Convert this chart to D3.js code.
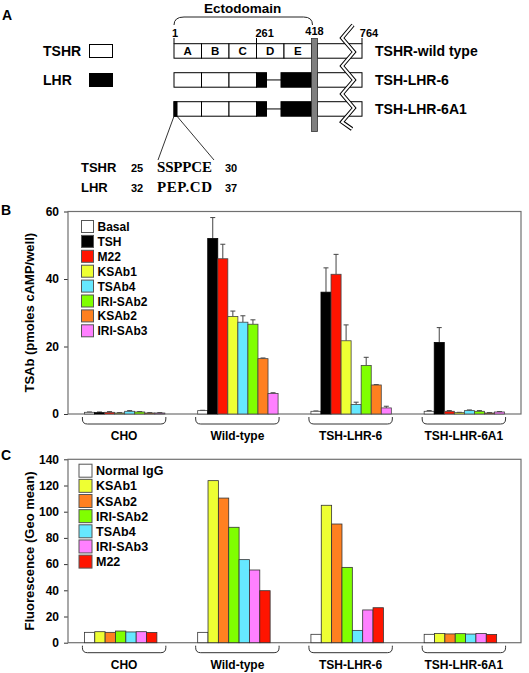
<!DOCTYPE html>
<html><head><meta charset="utf-8">
<script src="https://cdn.jsdelivr.net/npm/d3@7"></script>
<style>
html,body{margin:0;padding:0;background:#fff;}
svg{display:block;font-family:"Liberation Sans",Arial,sans-serif;}
text{font-weight:bold;fill:#000;}
</style></head>
<body>
<script>
// ---------------- DATA ----------------
const groups = ["CHO", "Wild-type", "TSH-LHR-6", "TSH-LHR-6A1"];

// Panel B: TSAb (pmoles cAMP/well)
const seriesB = ["Basal", "TSH", "M22", "KSAb1", "TSAb4", "IRI-SAb2", "KSAb2", "IRI-SAb3"];
const colorsB = ["#ffffff", "#000000", "#ff1400", "#eeff33", "#66e8ff", "#80ff00", "#ff8020", "#ff80ff"];
const meansB = [
  [0.5, 1.0, 0.8, 0.8],
  [0.4, 52.0, 36.1, 21.2],
  [0.5, 46.0, 41.4, 0.8],
  [0.3, 28.9, 21.7, 0.4],
  [0.8, 27.2, 2.8, 1.0],
  [0.6, 26.6, 14.4, 0.8],
  [0.3, 16.4, 8.6, 0.3],
  [0.3, 6.1, 1.8, 0.6]
];
const errorsB = [
  [0.1, 0.1, 0.1, 0.2],
  [0.2, 6.2, 7.2, 4.4],
  [0.2, 4.3, 5.9, 0.2],
  [0.1, 1.6, 4.7, 0.1],
  [0.2, 1.9, 0.7, 0.2],
  [0.1, 1.3, 2.4, 0.2],
  [0.1, 0.2, 0.1, 0.1],
  [0.1, 0.2, 0.5, 0.1]
];
const ticksB = [0, 20, 40, 60];

// Panel C: Fluorescence (Geo mean)
const seriesC = ["Normal IgG", "KSAb1", "KSAb2", "IRI-SAb2", "TSAb4", "IRI-SAb3", "M22"];
const colorsC = ["#ffffff", "#eeff33", "#ff8020", "#80ff00", "#66e8ff", "#ff80ff", "#ff1400"];
const valuesC = [
  [7.9, 7.9, 6.4, 6.4],
  [8.4, 123.7, 104.9, 7.0],
  [7.9, 110.4, 90.6, 6.7],
  [8.9, 88.1, 57.5, 6.9],
  [8.2, 63.4, 9.4, 6.6],
  [8.4, 55.5, 25.0, 7.0],
  [7.8, 39.7, 26.7, 6.3]
];
const ticksC = [0, 20, 40, 60, 80, 100, 120, 140];

// Panel A: schematic
const domains = ["A", "B", "C", "D", "E"];
const residueLabels = ["1", "261", "418", "764"];
const constructs = ["TSHR-wild type", "TSH-LHR-6", "TSH-LHR-6A1"];
const seqTSHR = {name: "TSHR", from: "25", seq: "SSPPCE", to: "30"};
const seqLHR = {name: "LHR", from: "32", seq: "PEP.CD", to: "37"};

// ---------------- DRAW ----------------
const W = 529, H = 673;
const svg = d3.select("body").append("svg").attr("width", W).attr("height", H);

// ===== Panel A =====
const gA = svg.append("g");
gA.append("text").attr("x", 2).attr("y", 20).style("font-size", "14px").text("A");

const xd = d3.scaleLinear().domain([0, 5]).range([174, 311.5]);
const tmX0 = 311.5, tmX1 = 317.5, tailEnd = 362;
const rowsY = [43.7, 72.7, 101.7], rowH = 14.5;

// Ectodomain brace
gA.append("path")
  .attr("d", `M${xd(0)},25 Q${xd(0)},17 ${xd(0)+10},17 L${tmX0-8},17 Q${tmX0+1},17 ${tmX0+1},25`)
  .attr("fill", "none").attr("stroke", "#222").attr("stroke-width", 1);
gA.append("text").attr("x", (xd(0)+tmX0)/2).attr("y", 13).attr("text-anchor", "middle")
  .style("font-size", "13.5px").text("Ectodomain");

// residue labels and ticks
const resPos = [xd(0), xd(3), (tmX0+tmX1)/2, tailEnd];
const resAnchor = ["middle", "start", "middle", "middle"];
residueLabels.forEach((r, i) => {
  gA.append("text").attr("x", i === 1 ? resPos[i] - 1 : (i === 0 ? resPos[i] + 1 : resPos[i] + (i===3?7:0)))
    .attr("y", i === 2 ? 35 : 37).attr("text-anchor", resAnchor[i])
    .style("font-size", "11px").text(r);
  if (i !== 2) gA.append("line").attr("x1", resPos[i]).attr("x2", resPos[i]).attr("y1", 38).attr("y2", rowsY[0])
    .attr("stroke", "#000").attr("stroke-width", 1);
});

// construct rows
const rowDefs = [
  {white: [0,1,2,3,4], blackD: false, blackStart: false},
  {white: [0,1,2], blackD: true, blackStart: false},
  {white: [0,1,2], blackD: true, blackStart: true}
];
rowDefs.forEach((rd, ri) => {
  const y0 = rowsY[ri];
  rd.white.forEach(k => {
    gA.append("rect").attr("x", xd(k)).attr("y", y0).attr("width", xd(k+1)-xd(k)).attr("height", rowH)
      .attr("fill", "#fff").attr("stroke", "#000").attr("stroke-width", 1);
  });
  if (ri === 0) {
    domains.forEach((d, k) => gA.append("text").attr("x", (xd(k)+xd(k+1))/2).attr("y", y0 + 11.5)
      .attr("text-anchor", "middle").style("font-size", "11.5px").text(d));
  }
  if (rd.blackD) {
    gA.append("rect").attr("x", xd(3)).attr("y", y0).attr("width", 10).attr("height", rowH)
      .attr("fill", "#000").attr("stroke", "#000");
    gA.append("line").attr("x1", xd(3)+10).attr("x2", xd(4)-3).attr("y1", y0 + rowH/2).attr("y2", y0 + rowH/2)
      .attr("stroke", "#000").attr("stroke-width", 1);
    gA.append("rect").attr("x", xd(4)-3).attr("y", y0).attr("width", tmX0-(xd(4)-3)).attr("height", rowH)
      .attr("fill", "#000").attr("stroke", "#000");
  }
  if (rd.blackStart) {
    gA.append("rect").attr("x", xd(0)).attr("y", y0).attr("width", 3).attr("height", rowH)
      .attr("fill", "#000").attr("stroke", "#000");
  }
  gA.append("rect").attr("x", tmX1).attr("y", y0).attr("width", tailEnd - tmX1).attr("height", rowH)
    .attr("fill", "#fff").attr("stroke", "#000").attr("stroke-width", 1);
  gA.append("text").attr("x", 375).attr("y", y0 + 12).style("font-size", "14px").text(constructs[ri]);
});
// TM bar
gA.append("rect").attr("x", tmX0).attr("y", 38.5).attr("width", tmX1 - tmX0).attr("height", 93)
  .attr("fill", "#808080").attr("stroke", "#333").attr("stroke-width", 0.8);
// break zigzag
const zz = [[353,25],[342,38],[354,52],[342,66],[354,80],[342,94],[354,108],[342,122],[352,129]];
const zline = d3.line();
gA.append("path").attr("d", zline(zz)).attr("fill", "none").attr("stroke", "#000").attr("stroke-width", 4);
gA.append("path").attr("d", zline(zz)).attr("fill", "none").attr("stroke", "#fff").attr("stroke-width", 2);

// legend TSHR / LHR
gA.append("text").attr("x", 43).attr("y", 56).style("font-size", "14px").text("TSHR");
gA.append("rect").attr("x", 89.5).attr("y", 44.5).attr("width", 23).attr("height", 13)
  .attr("fill", "#fff").attr("stroke", "#000");
gA.append("text").attr("x", 43).attr("y", 85).style("font-size", "14px").text("LHR");
gA.append("rect").attr("x", 89.5).attr("y", 73.5).attr("width", 23).attr("height", 13)
  .attr("fill", "#000").attr("stroke", "#000");

// zoom lines to sequence
gA.append("line").attr("x1", xd(0)).attr("y1", rowsY[2]+rowH).attr("x2", 158).attr("y2", 160).attr("stroke", "#000").attr("stroke-width", 0.8);
gA.append("line").attr("x1", xd(0)+3).attr("y1", rowsY[2]+rowH).attr("x2", 214).attr("y2", 160).attr("stroke", "#000").attr("stroke-width", 0.8);

[[seqTSHR, 172], [seqLHR, 192]].forEach(([s, y]) => {
  gA.append("text").attr("x", 81).attr("y", y).style("font-size", "13px").text(s.name);
  gA.append("text").attr("x", 131).attr("y", y).style("font-size", "11px").text(s.from);
  gA.append("text").attr("x", 157).attr("y", y)
    .style("font-family", "'Liberation Serif','Times New Roman',serif")
    .style("font-size", "15px")
    .attr("textLength", 55).attr("lengthAdjust", "spacing")
    .text(s.seq);
  gA.append("text").attr("x", 225).attr("y", y).style("font-size", "11px").text(s.to);
});

// ===== Shared bar-panel helpers =====
const xBand = d3.scaleBand().domain(groups).range([68, 521]).paddingInner(0.29).paddingOuter(0.145);
const bw = xBand.bandwidth();
const slot = bw / 8;

function drawFrame(y, ticks, yTop, yBot, label, panelLetter, letterY) {
  const g = svg.append("g");
  const ax = d3.axisLeft(y).tickValues(ticks).tickSize(4).tickPadding(5).tickSizeOuter(0);
  const a = g.append("g").attr("transform", "translate(68,0)").call(ax);
  a.select(".domain").remove();
  a.selectAll(".tick line").attr("stroke", "#333");
  a.selectAll(".tick text").style("font-size", "12px").style("font-weight", "bold")
    .style("font-family", "'Liberation Sans',Arial,sans-serif").attr("fill", "#000");
  g.append("rect").attr("x", 68).attr("y", yTop).attr("width", 521 - 68).attr("height", yBot - yTop)
    .attr("fill", "none").attr("stroke", "#707070").attr("stroke-width", 1.2);
  g.append("text").attr("transform", `translate(34,${(yTop + yBot)/2}) rotate(-90)`)
    .attr("text-anchor", "middle").style("font-size", "13px").text(label);
  g.append("text").attr("x", 1).attr("y", letterY).style("font-size", "14px").text(panelLetter);
  groups.forEach(gname => {
    const x0 = xBand(gname) - 2, x1 = xBand(gname) + bw + 1, t = yBot + 3, b = yBot + 10, r = 5;
    g.append("path").attr("d", `M${x0},${t} L${x0},${b-r} Q${x0},${b} ${x0+r},${b} L${x1-r},${b} Q${x1},${b} ${x1},${b-r} L${x1},${t}`)
      .attr("fill", "none").attr("stroke", "#333").attr("stroke-width", 1);
    g.append("text").attr("x", (x0 + x1)/2).attr("y", yBot + 26).attr("text-anchor", "middle")
      .style("font-size", "12px").text(gname);
  });
  return g;
}

// ===== Panel B =====
const yB = d3.scaleLinear().domain([0, 60]).range([414, 211.5]);
const gB = drawFrame(yB, ticksB, 211.5, 414, "TSAb (pmoles cAMP/well)", "B", 215);
seriesB.forEach((s, si) => {
  groups.forEach((gname, gi) => {
    const v = meansB[si][gi], e = errorsB[si][gi];
    const x = xBand(gname) + si * slot;
    const cx = x + slot / 2;
    gB.append("line").attr("x1", cx).attr("x2", cx).attr("y1", yB(v)).attr("y2", yB(v + e))
      .attr("stroke", "#444").attr("stroke-width", 1);
    gB.append("line").attr("x1", cx - 2.5).attr("x2", cx + 2.5).attr("y1", yB(v + e)).attr("y2", yB(v + e))
      .attr("stroke", "#444").attr("stroke-width", 1);
    gB.append("rect").attr("x", x).attr("y", yB(v)).attr("width", slot).attr("height", yB(0) - yB(v))
      .attr("fill", colorsB[si]).attr("stroke", si === 1 ? "#000" : "#444").attr("stroke-width", 0.8);
  });
  const ly = 226.5 + si * 14.9;
  gB.append("rect").attr("x", 81.5).attr("y", ly - 6).attr("width", 12).attr("height", 12)
    .attr("fill", colorsB[si]).attr("stroke", "#555").attr("stroke-width", 1);
  gB.append("text").attr("x", 97.5).attr("y", ly + 4.5).style("font-size", "12px").text(s);
});

// ===== Panel C =====
const yC = d3.scaleLinear().domain([0, 140]).range([642.7, 459.3]);
const gC = drawFrame(yC, ticksC, 459.3, 642.7, "Fluorescence (Geo mean)", "C", 460);
seriesC.forEach((s, si) => {
  groups.forEach((gname, gi) => {
    const v = valuesC[si][gi];
    const x = xBand(gname) + si * slot * 1.03;
    gC.append("rect").attr("x", x).attr("y", yC(v)).attr("width", slot * 1.03).attr("height", yC(0) - yC(v))
      .attr("fill", colorsC[si]).attr("stroke", "#333").attr("stroke-width", 0.8);
  });
  const ly = 470.7 + si * 15.15;
  gC.append("rect").attr("x", 79).attr("y", ly - 6.5).attr("width", 13).attr("height", 13)
    .attr("fill", colorsC[si]).attr("stroke", "#555").attr("stroke-width", 1);
  gC.append("text").attr("x", 96).attr("y", ly + 4.5).style("font-size", "12.5px").text(s);
});
</script>
</body></html>
